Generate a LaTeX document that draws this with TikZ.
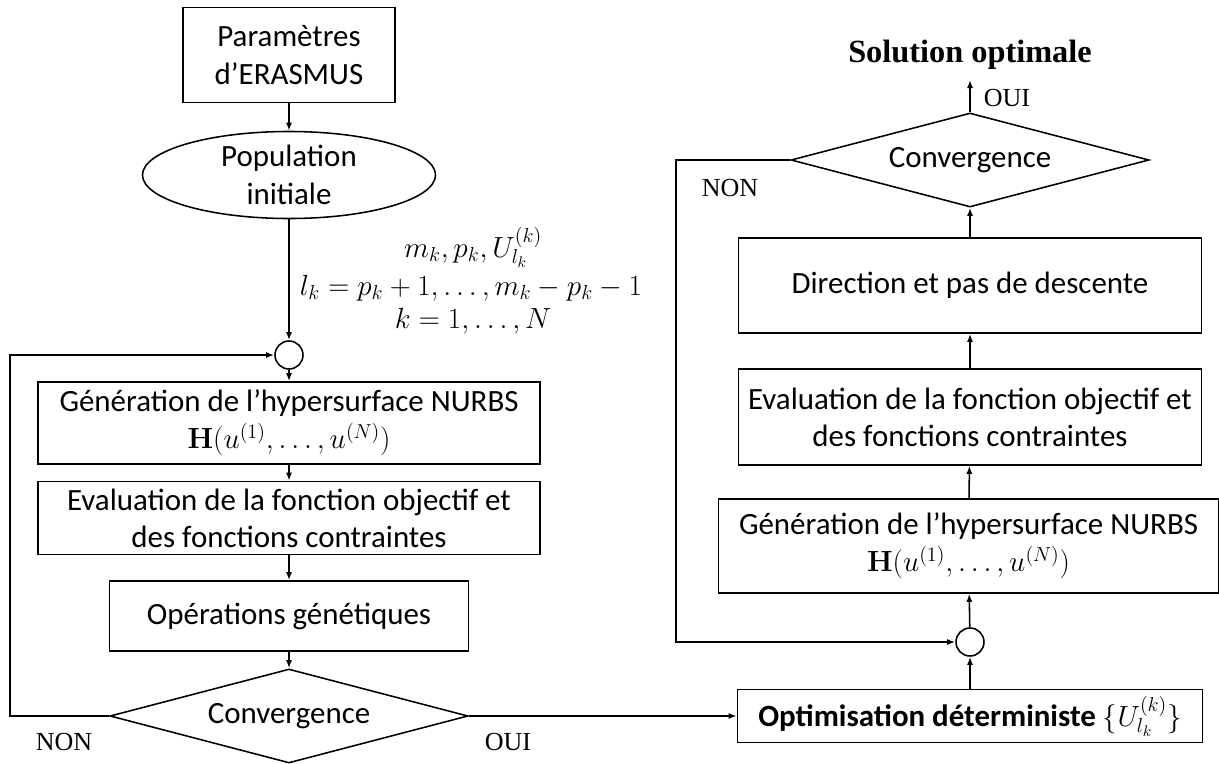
\documentclass[tikz,border=0pt]{standalone}
\usepackage[no-math]{fontspec}
\setmainfont{Carlito}
\newfontfamily\lblfont{Liberation Serif}
\usetikzlibrary{shapes.geometric,arrows.meta}

\begin{document}
\begin{tikzpicture}[x=0.025cm,y=-0.025cm,line width=1.1pt,>={Latex[length=2mm,width=1.5mm]},
		font=\fontsize{22}{26.5}\selectfont,
		box/.style={draw,rectangle,align=center,inner sep=2pt},
		decision/.style={draw,diamond,aspect=3.8,inner sep=0pt,minimum width=8.95cm,minimum height=2.35cm},
		junction/.style={draw,circle,inner sep=0pt,minimum size=0.7cm},
		lbl/.style={font=\lblfont\fontsize{18.5}{22}\selectfont}]
	\useasboundingbox (0,0) rectangle (1219,764);
	% genetic algorithm (left)
	\node[box,minimum width=5.3cm,minimum height=2.375cm] (param) at (289,55) {Paramètres\\d’ERASMUS};
	\node[draw,ellipse,align=center,inner sep=0pt,minimum width=7.325cm,minimum height=2.175cm] (pop) at (289,175) {Population\\initiale};
	\node[junction] (c1) at (289,355) {};
	\node[box,minimum width=12.55cm,minimum height=2.05cm] (gen1) at (289,423) {Génération de l’hypersurface NURBS\\$\mathbf{H}(u^{(1)},\ldots,u^{(N)})$};
	\node[box,minimum width=12.55cm,minimum height=1.825cm] (eval1) at (289,518) {Evaluation de la fonction objectif et\\des fonctions contraintes};
	\node[box,minimum width=8.975cm,minimum height=1.75cm] (ops) at (289,616) {Opérations génétiques};
	\node[decision] (conv1) at (289,716) {Convergence};
	\coordinate (lb) at (10,716);
	\node[inner sep=0pt] (knots) at (473,247) {$m_k, p_k, U^{(k)}_{l_k}$};
	\node[inner sep=0pt] (range) at (471,288) {$l_k = p_k+1,\ldots,m_k-p_k-1$};
	\node[inner sep=0pt] (kk) at (473,321) {$k=1,\ldots,N$};
	\node[lbl] (non1) at (64,742) {NON};
	\node[lbl] (oui1) at (508,742) {OUI};
	% deterministic optimisation (right)
	\node[box,minimum width=11.625cm,minimum height=1.325cm] (opt) at (970,716) {\textbf{Optimisation déterministe} $\{U^{(k)}_{l_k}\}$};
	\node[junction] (c2) at (970,642) {};
	\node[box,minimum width=12.5cm,minimum height=2.35cm] (gen2) at (968.5,546) {Génération de l’hypersurface NURBS\\$\mathbf{H}(u^{(1)},\ldots,u^{(N)})$};
	\node[box,minimum width=11.575cm,minimum height=2.4cm] (eval2) at (970,417) {Evaluation de la fonction objectif et\\des fonctions contraintes};
	\node[box,minimum width=11.575cm,minimum height=2.375cm] (dir) at (970,285.5) {Direction et pas de descente};
	\node[decision] (conv2) at (970,160) {Convergence};
	\coordinate (rb) at (676,160);
	\coordinate (top) at (970,80);
	\node[font=\lblfont\bfseries\fontsize{23}{27}\selectfont] (sol) at (970,55) {Solution optimale};
	\node[lbl] (oui2) at (1007,98) {OUI};
	\node[lbl] (non2) at (730,188) {NON};
	% connectors
	\draw[->] (param) -- (pop);
	\draw[->] (pop) -- (c1);
	\draw[->] (c1) -- (gen1);
	\draw[->] (gen1) -- (eval1);
	\draw[->] (eval1) -- (ops);
	\draw[->] (ops) -- (conv1);
	\draw[->] (conv1.west) -- (lb) |- (c1.west);
	\draw[->] (conv1.east) -- (opt.west);
	\draw[->] (opt) -- (c2);
	\draw[->] (c2) -- (gen2);
	\draw[->] (gen2) -- (eval2);
	\draw[->] (eval2) -- (dir);
	\draw[->] (dir) -- (conv2);
	\draw[->] (conv2.north) -- (top);
	\draw[->] (conv2.west) -- (rb) |- (c2.west);
\end{tikzpicture}
\end{document}
